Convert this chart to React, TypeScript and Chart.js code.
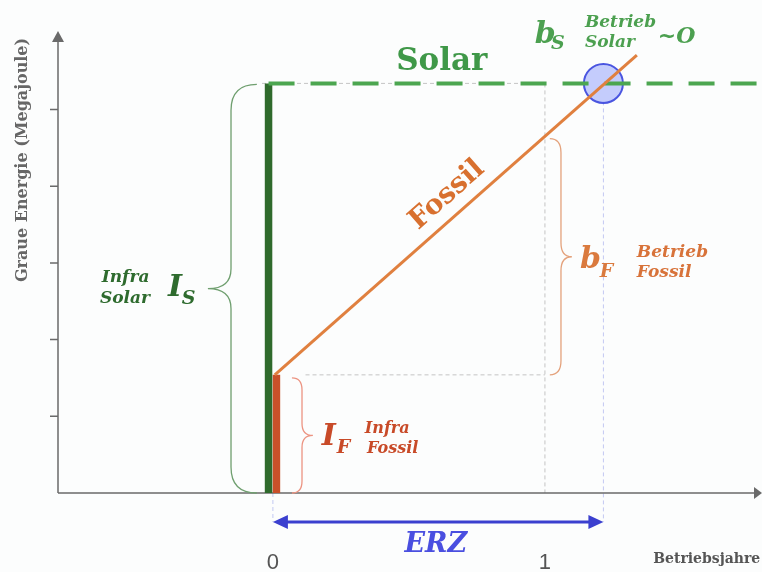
import React, { useEffect, useRef } from 'react';
import { Chart, registerables } from 'chart.js';

Chart.register(...registerables);

// ---- data ----
const X_TICK_VALUES = [0, 1];
const X_TICK_LABELS = ['0', '1'];
const Y_TICK_VALUES = [1, 2, 3, 4, 5];
const X_RANGE = [-0.79, 1.798];
const Y_RANGE = [0, 6.01];

const SOLAR_X = [-0.016, 1.8];
const SOLAR_Y = [5.34, 5.34];
const FOSSIL_X = [0.007, 1.338];
const FOSSIL_Y = [1.54, 5.71];
const BAR_X = [-0.016, 0.013]; // infra solar bar, infra fossil bar
const INFRA_SOLAR = [0, 5.34];
const INFRA_FOSSIL = [0, 1.54];
const ERZ_YEARS = 1.215;
const FOSSIL_AT_YEAR1 = 4.62;
const ERZ_ARROW_Y = -0.378;

const Y_TITLE = 'Graue Energie (Megajoule)';
const X_TITLE = 'Betriebsjahre';

const SERIF = '"DejaVu Serif", "Liberation Serif", serif';
const SANS = '"Liberation Sans", Arial, sans-serif';

type Label = { t: string; x: number; y: number; size: number; color: string; style?: string; align?: CanvasTextAlign };

const LABELS: Label[] = [
  { t: 'Solar', x: 0.621, y: 5.515, size: 31, color: '#3f9848', style: 'bold', align: 'center' },
  { t: 'b', x: 0.963, y: 5.867, size: 30, color: '#4ca050', style: 'italic bold' },
  { t: 'S', x: 1.022, y: 5.789, size: 19, color: '#4ca050', style: 'italic bold' },
  { t: 'Betrieb', x: 1.147, y: 6.076, size: 17, color: '#4ca050', style: 'italic bold' },
  { t: 'Solar', x: 1.147, y: 5.815, size: 17, color: '#4ca050', style: 'italic bold' },
  { t: '~O', x: 1.415, y: 5.867, size: 22, color: '#4ca050', style: 'italic bold' },
  { t: 'Infra', x: -0.629, y: 2.751, size: 17, color: '#2e6b2e', style: 'italic bold' },
  { t: 'Solar', x: -0.636, y: 2.477, size: 17, color: '#2e6b2e', style: 'italic bold' },
  { t: 'I', x: -0.386, y: 2.568, size: 30, color: '#2e6b2e', style: 'italic bold' },
  { t: 'S', x: -0.335, y: 2.464, size: 19, color: '#2e6b2e', style: 'italic bold' },
  { t: 'b', x: 1.129, y: 2.934, size: 30, color: '#da7a3e', style: 'italic bold' },
  { t: 'F', x: 1.202, y: 2.816, size: 19, color: '#da7a3e', style: 'italic bold' },
  { t: 'Betrieb', x: 1.338, y: 3.077, size: 17, color: '#d8733a', style: 'italic bold' },
  { t: 'Fossil', x: 1.338, y: 2.816, size: 17, color: '#d8733a', style: 'italic bold' },
  { t: 'I', x: 0.18, y: 0.626, size: 30, color: '#c84a28', style: 'italic bold' },
  { t: 'F', x: 0.235, y: 0.522, size: 19, color: '#c84a28', style: 'italic bold' },
  { t: 'Infra', x: 0.338, y: 0.782, size: 16, color: '#c84a28', style: 'italic bold' },
  { t: 'Fossil', x: 0.346, y: 0.522, size: 16, color: '#c84a28', style: 'italic bold' },
  { t: 'ERZ', x: 0.599, y: -0.769, size: 27, color: '#4a4fe0', style: 'italic bold', align: 'center' },
];

function brace(ctx: CanvasRenderingContext2D, xEnd: number, xSpine: number, xTip: number, yTop: number, yBot: number, r1: number, r2: number) {
  const yMid = (yTop + yBot) / 2;
  ctx.beginPath();
  ctx.moveTo(xEnd, yTop);
  ctx.quadraticCurveTo(xSpine, yTop, xSpine, yTop + r1);
  ctx.lineTo(xSpine, yMid - r2);
  ctx.quadraticCurveTo(xSpine, yMid, xTip, yMid);
  ctx.quadraticCurveTo(xSpine, yMid, xSpine, yMid + r2);
  ctx.lineTo(xSpine, yBot - r1);
  ctx.quadraticCurveTo(xSpine, yBot, xEnd, yBot);
  ctx.stroke();
}

const annot = {
  id: 'annot',
  beforeDraw(chart: any) {
    const ctx = chart.ctx;
    ctx.save();
    ctx.fillStyle = '#fcfdfd';
    ctx.fillRect(0, 0, chart.width, chart.height);
    ctx.restore();
  },
  beforeDatasetsDraw(chart: any) {
    const ctx: CanvasRenderingContext2D = chart.ctx;
    const xs = chart.scales.x, ys = chart.scales.y;
    const X = (v: number) => xs.getPixelForValue(v);
    const Y = (v: number) => ys.getPixelForValue(v);
    ctx.save();
    // grey guides
    ctx.strokeStyle = '#c4c4c4';
    ctx.lineWidth = 1;
    ctx.setLineDash([4, 3]);
    ctx.beginPath();
    ctx.moveTo(X(-0.04), Y(SOLAR_Y[0])); ctx.lineTo(X(1), Y(SOLAR_Y[0]));
    ctx.moveTo(X(1), Y(SOLAR_Y[0])); ctx.lineTo(X(1), Y(0));
    ctx.moveTo(X(0.12), Y(INFRA_FOSSIL[1])); ctx.lineTo(X(1), Y(INFRA_FOSSIL[1]));
    ctx.stroke();
    // light blue guides
    ctx.strokeStyle = '#c3c9f2';
    ctx.beginPath();
    ctx.moveTo(X(ERZ_YEARS), Y(SOLAR_Y[0]) + 18); ctx.lineTo(X(ERZ_YEARS), Y(ERZ_ARROW_Y));
    ctx.moveTo(X(0), Y(0)); ctx.lineTo(X(0), Y(ERZ_ARROW_Y));
    ctx.stroke();
    ctx.setLineDash([]);
    // axes
    const ca = chart.chartArea;
    ctx.strokeStyle = '#6a6a6a';
    ctx.fillStyle = '#6a6a6a';
    ctx.lineWidth = 1.5;
    ctx.beginPath();
    ctx.moveTo(ca.left, Y(0)); ctx.lineTo(ca.right - 6, Y(0));
    ctx.moveTo(ca.left, Y(0)); ctx.lineTo(ca.left, ca.top + 8);
    Y_TICK_VALUES.forEach(v => { ctx.moveTo(ca.left - 8, Y(v)); ctx.lineTo(ca.left, Y(v)); });
    ctx.stroke();
    ctx.beginPath();
    ctx.moveTo(ca.left, ca.top - 1); ctx.lineTo(ca.left - 6, ca.top + 10); ctx.lineTo(ca.left + 6, ca.top + 10); ctx.closePath();
    ctx.fill();
    ctx.beginPath();
    ctx.moveTo(ca.right, Y(0)); ctx.lineTo(ca.right - 8, Y(0) - 6); ctx.lineTo(ca.right - 8, Y(0) + 6); ctx.closePath();
    ctx.fill();
    ctx.restore();
  },
  afterDatasetsDraw(chart: any) {
    const ctx: CanvasRenderingContext2D = chart.ctx;
    const xs = chart.scales.x, ys = chart.scales.y;
    const X = (v: number) => xs.getPixelForValue(v);
    const Y = (v: number) => ys.getPixelForValue(v);
    const ca = chart.chartArea;
    ctx.save();
    // braces
    ctx.lineWidth = 1.3;
    ctx.strokeStyle = '#6f9f6f';
    brace(ctx, X(-0.059), X(-0.154), X(-0.239), Y(INFRA_SOLAR[1]) + 1, Y(0), 26, 20);
    ctx.strokeStyle = '#e4a27c';
    brace(ctx, X(1.018), X(1.059), X(1.099), Y(FOSSIL_AT_YEAR1), Y(INFRA_FOSSIL[1]), 14, 14);
    ctx.strokeStyle = '#ec9482';
    brace(ctx, X(0.07), X(0.107), X(0.147), Y(INFRA_FOSSIL[1]) + 3, Y(0), 12, 12);

    // ERZ arrow
    const ay = Y(ERZ_ARROW_Y);
    const x0 = X(0), x1 = X(ERZ_YEARS);
    ctx.strokeStyle = '#3b40cf';
    ctx.fillStyle = '#3b40cf';
    ctx.lineWidth = 3;
    ctx.beginPath();
    ctx.moveTo(x0 + 10, ay); ctx.lineTo(x1 - 10, ay);
    ctx.stroke();
    ctx.beginPath();
    ctx.moveTo(x0, ay); ctx.lineTo(x0 + 15, ay - 7); ctx.lineTo(x0 + 15, ay + 7); ctx.closePath();
    ctx.moveTo(x1, ay); ctx.lineTo(x1 - 15, ay - 7); ctx.lineTo(x1 - 15, ay + 7); ctx.closePath();
    ctx.fill();

    // Fossil rotated label
    const ang = Math.atan2(Y(FOSSIL_Y[1]) - Y(FOSSIL_Y[0]), X(FOSSIL_X[1]) - X(FOSSIL_X[0]));
    ctx.save();
    ctx.translate(X(0.64), Y(3.885));
    ctx.rotate(ang);
    ctx.font = `bold 28px ${SERIF}`;
    ctx.fillStyle = '#d8702f';
    ctx.textAlign = 'center';
    ctx.textBaseline = 'middle';
    ctx.fillText('Fossil', 0, 0);
    ctx.restore();

    // labels
    ctx.textBaseline = 'alphabetic';
    LABELS.forEach(l => {
      ctx.font = `${l.style || ''} ${l.size}px ${SERIF}`;
      ctx.fillStyle = l.color;
      ctx.textAlign = l.align || 'left';
      ctx.fillText(l.t, X(l.x), Y(l.y));
    });

    // tick labels
    ctx.font = `22px ${SANS}`;
    ctx.fillStyle = '#555';
    ctx.textAlign = 'center';
    ctx.textBaseline = 'middle';
    X_TICK_VALUES.forEach((v, i) => ctx.fillText(X_TICK_LABELS[i], X(v), ca.bottom + 70));

    // axis titles
    ctx.font = `bold 14px ${SERIF}`;
    ctx.fillStyle = '#555';
    ctx.textAlign = 'left';
    ctx.textBaseline = 'alphabetic';
    ctx.fillText(X_TITLE, X(1.398), ca.bottom + 70);
    ctx.save();
    ctx.translate(ca.left - 35, ca.top + 128);
    ctx.rotate(-Math.PI / 2);
    ctx.font = `bold 16px ${SERIF}`;
    ctx.fillStyle = '#666';
    ctx.textAlign = 'center';
    ctx.textBaseline = 'middle';
    ctx.fillText(Y_TITLE, 0, 0);
    ctx.restore();
    ctx.restore();
  },
};

export default function App() {
  const ref = useRef<HTMLCanvasElement>(null);
  useEffect(() => {
    if (!ref.current) return;
    const pts = (xa: number[], ya: number[]) => xa.map((x, i) => ({ x, y: ya[i] }));
    const chart = new Chart(ref.current, {
      type: 'line',
      data: {
        datasets: [
          { label: 'Solar', data: pts(SOLAR_X, SOLAR_Y), borderColor: '#4ca650', borderWidth: 4, borderDash: [26, 16], pointRadius: 0, order: 1 },
          { label: 'Fossil', data: pts(FOSSIL_X, FOSSIL_Y), borderColor: '#e0803f', borderWidth: 3, pointRadius: 0, order: 0 },
          { label: 'Infra Solar', data: pts([BAR_X[0], BAR_X[0]], INFRA_SOLAR), borderColor: '#2f6a2c', borderWidth: 7.5, borderCapStyle: 'butt', pointRadius: 0, order: 2 },
          { label: 'Infra Fossil', data: pts([BAR_X[1], BAR_X[1]], INFRA_FOSSIL), borderColor: '#c9502a', borderWidth: 7.5, borderCapStyle: 'butt', pointRadius: 0, order: 2 },
          { label: 'ERZ', data: [{ x: ERZ_YEARS, y: SOLAR_Y[0] }], showLine: false, pointRadius: 19.5, pointBackgroundColor: 'rgba(120,135,250,0.42)', pointBorderColor: '#4a55e0', pointBorderWidth: 2, order: 10 },
        ] as any,
      },
      options: {
        responsive: false,
        animation: false,
        layout: { autoPadding: false, padding: { left: 58, right: 0, top: 32, bottom: 79 } },
        plugins: { legend: { display: false }, tooltip: { enabled: false }, title: { display: false } },
        events: [],
        scales: {
          x: { type: 'linear', min: X_RANGE[0], max: X_RANGE[1], display: false },
          y: { type: 'linear', min: Y_RANGE[0], max: Y_RANGE[1], display: false },
        },
      },
      plugins: [annot],
    });
    return () => chart.destroy();
  }, []);
  return (
    <div style={{ position: 'fixed', left: 0, top: 0, width: 762, height: 572 }}>
      <canvas ref={ref} width={762} height={572} style={{ display: 'block' }} />
    </div>
  );
}
